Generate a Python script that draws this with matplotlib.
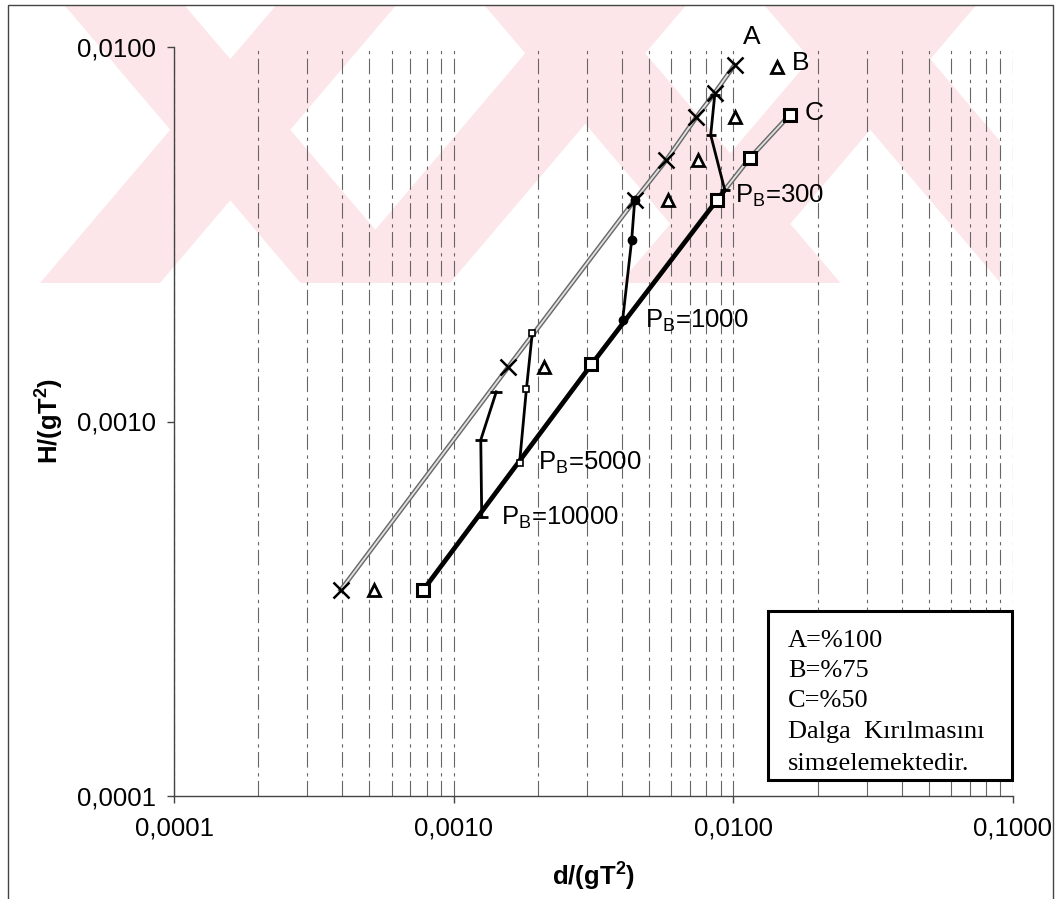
import numpy as np
import matplotlib
matplotlib.use("Agg")
import matplotlib.pyplot as plt
import matplotlib.patheffects as pe
from matplotlib.patches import Rectangle, Polygon
from matplotlib.ticker import FixedLocator, FuncFormatter, LogLocator

plt.rcParams['font.family'] = ['Liberation Sans', 'DejaVu Sans']
plt.rcParams['mathtext.fontset'] = 'custom'
plt.rcParams['mathtext.rm'] = 'Liberation Sans'
plt.rcParams['mathtext.bf'] = 'Liberation Sans:bold'
plt.rcParams['mathtext.default'] = 'regular'

# ---------------- data ----------------
# Series A (%100) - crosses, grey double line
A_x = [3.95e-4, 1.57e-3, 4.44e-3, 5.76e-3, 7.38e-3, 8.58e-3, 1.01e-2]
A_y = [3.55e-4, 1.40e-3, 3.90e-3, 4.99e-3, 6.50e-3, 7.54e-3, 8.95e-3]
# Series B (%75) - triangles
B_x = [5.20e-4, 2.11e-3, 5.82e-3, 7.46e-3, 1.01e-2, 1.43e-2]
B_y = [3.55e-4, 1.40e-3, 3.90e-3, 4.99e-3, 6.50e-3, 8.85e-3]
# Series C (%50) - squares
C_x = [7.79e-4, 3.11e-3, 8.72e-3, 1.145e-2, 1.59e-2]
C_y = [3.55e-4, 1.42e-3, 3.90e-3, 5.05e-3, 6.58e-3]

# Breaking-parameter curves P_B
PB_labels = ["300", "1000", "5000", "10000"]
PB_x = [[8.58e-3, 8.30e-3, 9.32e-3],
        [4.44e-3, 4.33e-3, 4.02e-3],
        [1.91e-3, 1.82e-3, 1.72e-3],
        [1.42e-3, 1.25e-3, 1.26e-3]]
PB_y = [[7.44e-3, 5.82e-3, 4.15e-3],
        [3.90e-3, 3.05e-3, 1.87e-3],
        [1.72e-3, 1.22e-3, 7.75e-4],
        [1.20e-3, 8.93e-4, 5.56e-4]]

x_ticks = [1e-4, 1e-3, 1e-2, 1e-1]
y_ticks = [1e-4, 1e-3, 1e-2]
legend_lines = ["A=%100", "B=%75", "C=%50", "Dalga  Kırılmasını", "simgelemektedir."]

# ---------------- figure ----------------
W, H = 1062, 899
fig = plt.figure(figsize=(W / 100, H / 100), dpi=100)
fig.patch.set_facecolor('white')

def fx(px):
    return px / W

def fy(py):
    return 1 - py / H

# ---- faint pink background watermark (scan decoration) ----
wm_clip = Rectangle((fx(40), fy(283)), fx(1000) - fx(40), fy(5) - fy(283),
                    transform=fig.transFigure, fc='none', ec='none')
fig.add_artist(wm_clip)
slope = 0.85
band_w = 120
top_y, bot_y = 0, 283
rising_bottoms = [40, 330, 620]
falling_tops = [60, 480, 760]
bands = []
for b in rising_bottoms:
    d = slope * (bot_y - top_y)
    bands.append([(b, bot_y), (b + band_w, bot_y), (b + band_w + d, top_y), (b + d, top_y)])
for t in falling_tops:
    d = slope * (bot_y - top_y)
    bands.append([(t, top_y), (t + band_w, top_y), (t + band_w + d, bot_y), (t + d, bot_y)])
for poly in bands:
    p = Polygon([(fx(px), fy(py)) for px, py in poly], closed=True,
                transform=fig.transFigure, fc='#fde6ea', ec='none', zorder=-2)
    fig.add_artist(p)
    p.set_clip_path(wm_clip)

# outer chart border
fig.add_artist(Rectangle((fx(8), -0.02), fx(1053) - fx(8), fy(5) + 0.02,
                         transform=fig.transFigure, fill=False, lw=1.0,
                         ec='#444', zorder=-1))

ax = fig.add_axes([fx(174), fy(796), fx(1013) - fx(174), fy(47) - fy(796)])
ax.set_facecolor('none')
ax.set_xscale('log')
ax.set_yscale('log')
ax.set_xlim(1e-4, 1e-1)
ax.set_ylim(1e-4, 1e-2)

for s in ['top', 'right']:
    ax.spines[s].set_visible(False)
for s in ['left', 'bottom']:
    ax.spines[s].set_color('#444')
    ax.spines[s].set_linewidth(1.0)

fmt = FuncFormatter(lambda v, p: f"{v:.4f}".replace('.', ','))
ax.xaxis.set_major_locator(FixedLocator(x_ticks))
ax.yaxis.set_major_locator(FixedLocator(y_ticks))
ax.xaxis.set_major_formatter(fmt)
ax.yaxis.set_major_formatter(fmt)
ax.xaxis.set_minor_locator(LogLocator(base=10, subs=np.arange(2, 10)))
ax.yaxis.set_minor_locator(plt.NullLocator())
ax.xaxis.set_minor_formatter(plt.NullFormatter())
ax.tick_params(axis='both', which='major', direction='out', length=5,
               width=1, color='#444', labelsize=18.5)
ax.tick_params(axis='x', which='major', pad=10)
ax.tick_params(axis='y', which='major', pad=8)
ax.tick_params(axis='x', which='minor', length=0)

ax.grid(axis='x', which='both', color='#666', lw=0.8,
        ls=(0, (14, 4, 3, 5)), zorder=0)

# A line: grey hollow double line
hollow = [pe.Stroke(linewidth=3.4, foreground='#6a6a6a'), pe.Normal()]
ax.plot(A_x, A_y, color='#e2e2e2', lw=1.3, path_effects=hollow, zorder=2)
ax.plot(A_x, A_y, ls='none', marker='x', ms=11, mew=1.8, color='black', zorder=5)

# B triangles
ax.plot(B_x, B_y, ls='none', marker='^', ms=8, mew=2.0, mfc='white',
        mec='black', zorder=5)

# C line: hollow over whole range, thick black up to P_B=300
ax.plot(C_x, C_y, color='#e2e2e2', lw=1.3, path_effects=hollow, zorder=2)
thick_x = [C_x[0], C_x[1], PB_x[0][-1]]
thick_y = [C_y[0], C_y[1], PB_y[0][-1]]
ax.plot(thick_x, thick_y, color='black', lw=3.2, zorder=3,
        solid_capstyle='round')
ax.plot(C_x, C_y, ls='none', marker='s', ms=9, mew=2.2, mfc='white',
        mec='black', zorder=5)

# P_B curves
pb_markers = [dict(marker='_', ms=7, mew=2),
              dict(marker='o', ms=6, mfc='black'),
              dict(marker='s', ms=4, mfc='white', mew=1.2),
              dict(marker='_', ms=8, mew=2)]
for xs, ys, mk in zip(PB_x, PB_y, pb_markers):
    ax.plot(xs, ys, color='black', lw=2.0, zorder=4, **mk, mec='black')

# P_B labels (offsets in pixels from the lower end of each curve)
pb_offsets = [(10, -13), (22, -8), (18, -7), (19, -8)]
for lab, xs, ys, off in zip(PB_labels, PB_x, PB_y, pb_offsets):
    ax.annotate(r'P$_{B}$=' + lab, xy=(xs[-1], ys[-1]), xytext=off,
                textcoords='offset pixels', ha='left', va='baseline',
                fontsize=18.5, zorder=6)

# series letters
ax.annotate('A', xy=(A_x[-1], A_y[-1]), xytext=(17, 28),
            textcoords='offset pixels', ha='center', va='center', fontsize=19)
ax.annotate('B', xy=(B_x[-1], B_y[-1]), xytext=(24, 4),
            textcoords='offset pixels', ha='center', va='center', fontsize=19)
ax.annotate('C', xy=(C_x[-1], C_y[-1]), xytext=(24, 2),
            textcoords='offset pixels', ha='center', va='center', fontsize=19)

# axis titles
fig.text(fx(594), fy(877), r'$\mathbf{d/(gT^2)}$', ha='center', va='center',
         fontsize=18.5)
fig.text(fx(50), fy(421), r'$\mathbf{H/(gT^2)}$', ha='center', va='center',
         fontsize=18.5, rotation=90)

# legend / note box
box = Rectangle((fx(768), fy(780)), fx(1012) - fx(768), fy(611) - fy(780),
                transform=fig.transFigure, fc='white', ec='black', lw=2.2,
                zorder=10)
fig.add_artist(box)
clip = Rectangle((fx(768), fy(770)), fx(1012) - fx(768), fy(611) - fy(770),
                 transform=fig.transFigure, fc='none', ec='none')
fig.add_artist(clip)
baselines = [647, 677, 707, 738, 770]
for line, bl in zip(legend_lines, baselines):
    t = fig.text(fx(788), fy(bl), line, ha='left', va='baseline',
                 fontsize=19, family='Liberation Serif', zorder=11)
    t.set_clip_path(clip)

fig.savefig('out.png', dpi=100, facecolor='white')
